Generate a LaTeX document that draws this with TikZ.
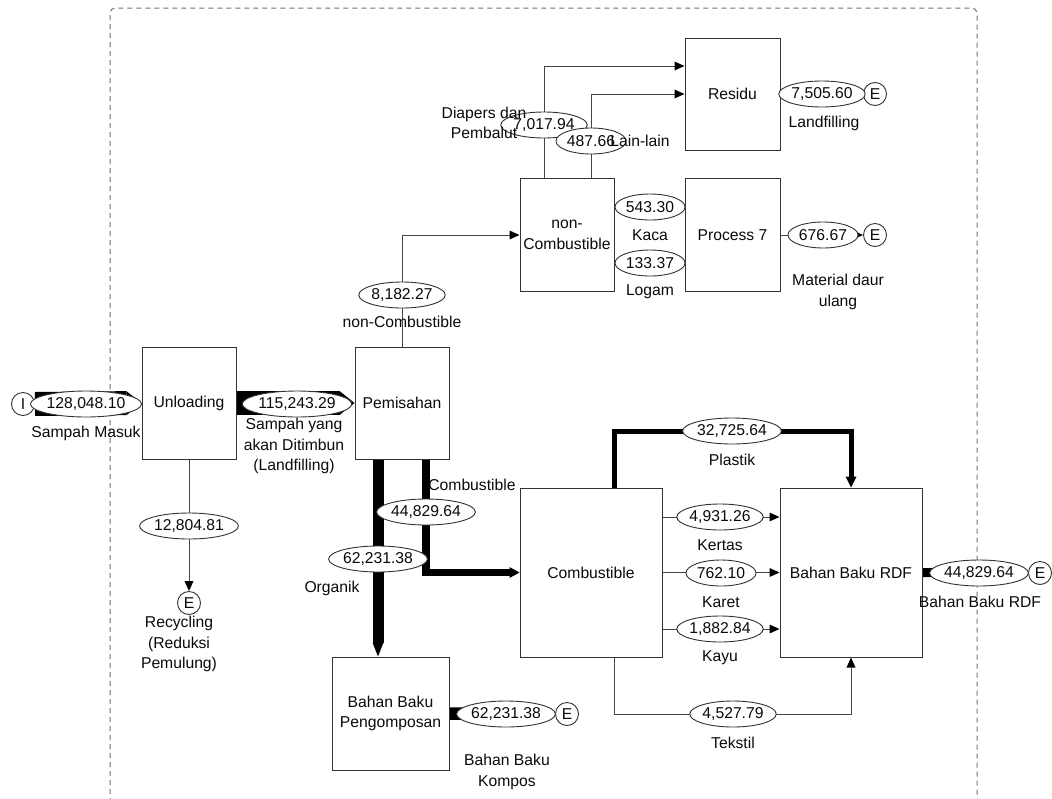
\documentclass[tikz,border=0pt]{standalone}
\usepackage{fontspec}
\setmainfont{Liberation Sans}
\usetikzlibrary{arrows.meta,shapes.geometric,backgrounds,calc}
\definecolor{bord}{HTML}{333333}
\definecolor{lnc}{HTML}{444444}
\definecolor{txt}{HTML}{0A0A0A}
\definecolor{frm}{HTML}{707070}
\begin{document}
\begin{tikzpicture}[x=1pt,y=-1pt,
  every node/.style={font=\fontsize{15.7}{20.5}\selectfont, text=txt},
  box/.style={draw=bord, fill=white, line width=1pt, inner sep=0pt, align=center},
  ell/.style={ellipse, draw=bord, fill=white, line width=0.9pt, minimum height=26pt, inner sep=0pt},
  term/.style={circle, draw=bord, fill=white, line width=0.9pt, minimum size=23pt, inner sep=0pt},
  lbl/.style={align=center, inner sep=0pt},
  conn/.style={draw=lnc, line width=1pt},
  arr/.style={-{Triangle[length=10pt,width=9pt,line width=0pt,color=black]}},
]
\useasboundingbox (0,0) rectangle (1052,798);
\clip (0,0) rectangle (1052,798);
% frame
\draw[frm, line width=1pt, dash pattern=on 5pt off 4pt, rounded corners=5pt]
  (110,812) -- (110,8) -- (977,8) -- (977,812);

% boxes
\node[box, minimum width=94pt, minimum height=112pt] (unl) at (189,403) {Unloading};
\node[box, minimum width=94pt, minimum height=112pt] (pem) at (402,403) {Pemisahan};
\node[box, minimum width=94pt, minimum height=113pt] (nc) at (567,235) {non-\\Combustible};
\node[box, minimum width=95pt, minimum height=113pt] (p7) at (732.5,235) {Process 7};
\node[box, minimum width=95pt, minimum height=112pt] (res) at (732.5,94) {Residu};
\node[box, minimum width=142pt, minimum height=169pt] (comb) at (591,572.5) {Combustible};
\node[box, minimum width=142pt, minimum height=169pt] (rdf) at (851,572.5) {Bahan Baku RDF};
\node[box, minimum width=117pt, minimum height=113pt] (bbp) at (390.5,713.5) {Bahan Baku\\Pengomposan};

% terminals
\node[term] (tI) at (23,404) {I};
\node[term] (eRc) at (189,603) {E};
\node[term] (eK) at (567,714) {E};
\node[term] (eF) at (1040,573) {E};
\node[term] (eR) at (875,94) {E};
\node[term] (eP) at (875,235) {E};

% ellipses
\node[ell, minimum width=98pt] (q1) at (86,404) {128,048.10};
\node[ell, minimum width=104pt] (q2) at (297,404) {115,243.29};
\node[ell, minimum width=93pt] (rc) at (189,526) {12,804.81};
\node[ell, minimum width=90pt] (o1) at (378,559) {62,231.38};
\node[ell, minimum width=88pt] (c1) at (426,512) {44,829.64};
\node[ell, minimum width=90pt] (ko) at (506,714) {62,231.38};
\node[ell, minimum width=84pt] (n1) at (402,295) {8,182.27};
\node[ell, minimum width=80pt] (d1) at (544,125) {7,017.94};
\node[ell, minimum width=70pt] (d2) at (591,141) {487.66};
\node[ell, minimum width=70pt] (kc) at (650,207) {543.30};
\node[ell, minimum width=70pt] (lg) at (650,263) {133.37};
\node[ell, minimum width=82pt] (rs) at (822,94) {7,505.60};
\node[ell, minimum width=70pt] (pp) at (823,235) {676.67};
\node[ell, minimum width=90pt] (pl) at (732,431) {32,725.64};
\node[ell, minimum width=83pt] (ke) at (720,517) {4,931.26};
\node[ell, minimum width=70pt] (ka) at (721,573) {762.10};
\node[ell, minimum width=83pt] (ky) at (720,629) {1,882.84};
\node[ell, minimum width=83pt] (tx) at (733,714) {4,527.79};
\node[ell, minimum width=90pt] (rf) at (979,573) {44,829.64};

% labels
\node[lbl] (l1) at (86,433) {Sampah Masuk};
\node[lbl] (l2) at (294,446) {Sampah yang\\akan Ditimbun\\(Landfilling)};
\node[lbl] (l3) at (179,644) {Recycling\\(Reduksi\\Pemulung)};
\node[lbl] (l4) at (332,588) {Organik};
\node[lbl] (l5) at (472,485) {Combustible};
\node[lbl] (l6) at (507,772) {Bahan Baku\\Kompos};
\node[lbl] (l7) at (402,322) {non-Combustible};
\node[lbl] (l8) at (484,123) {Diapers dan\\Pembalut};
\node[lbl] (l9) at (640,141) {Lain-lain};
\node[lbl] (l10) at (650,235) {Kaca};
\node[lbl] (l11) at (650,292) {Logam};
\node[lbl] (l12) at (824,123) {Landfilling};
\node[lbl] (l13) at (838,292) {Material daur\\ulang};
\node[lbl] (l14) at (732,460) {Plastik};
\node[lbl] (l15) at (720,545) {Kertas};
\node[lbl] (l16) at (721,602) {Karet};
\node[lbl] (l17) at (720,658) {Kayu};
\node[lbl] (l18) at (733,743) {Tekstil};
\node[lbl] (l19) at (980,602) {Bahan Baku RDF};

% connectors (background)
\begin{scope}[on background layer]
\draw[black, line width=24pt, -{Triangle[length=15pt,width=24pt,line width=0pt]}] (tI.east) -- (unl.west);
\draw[black, line width=24pt, -{Triangle[length=15pt,width=24pt,line width=0pt]}] (unl.east) -- (pem.west);
\draw[conn, arr] (unl.south) -- (eRc.north);
\draw[black, line width=11pt, -{Triangle[length=14pt,width=11pt,line width=0pt]}] (pem.south -| o1.center) -- (bbp.north -| o1.center);
\draw[black, line width=7.5pt, -{Triangle[length=10pt,width=11pt,line width=0pt]}] (pem.south -| c1.center) |- (comb.west);
\draw[black, line width=12.5pt, -{Triangle[length=8pt,width=12.5pt,line width=0pt]}] (bbp.east) -- (eK.west);
\draw[conn, arr] (pem.north) |- (nc.west);
\draw[conn, arr] ([xshift=-23pt]nc.north) |- ([yshift=28pt]res.west);
\draw[conn, arr] ([xshift=24pt]nc.north) |- (res.west);
\draw[conn, arr] (res.east) -- (eR.west);
\draw[conn, arr] (p7.east) -- (eP.west);
\draw[black, line width=5pt, -{Triangle[length=11pt,width=11pt,line width=0pt]}] ([xshift=23pt]comb.north) |- (pl.center) -| (rdf.north);
\draw[conn, arr] (comb.east |- ke.center) -- (rdf.west |- ke.center);
\draw[conn, arr] (comb.east) -- (rdf.west);
\draw[conn, arr] (comb.east |- ky.center) -- (rdf.west |- ky.center);
\draw[conn, arr] ([xshift=23pt]comb.south) |- (tx.center) -| (rdf.south);
\draw[black, line width=9pt, -{Triangle[length=8pt,width=9pt,line width=0pt]}] (rdf.east) -- (eF.west);
\end{scope}
\end{tikzpicture}
\end{document}
